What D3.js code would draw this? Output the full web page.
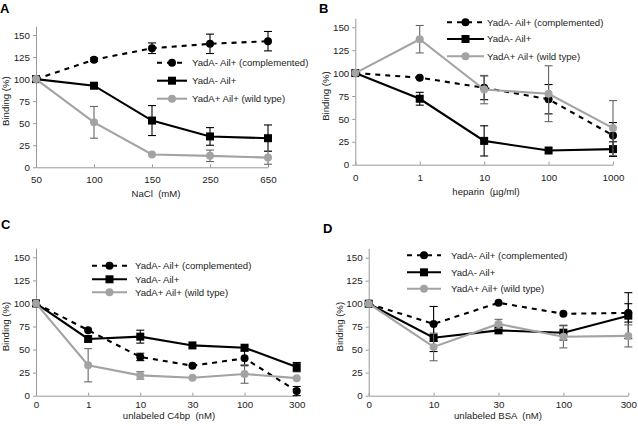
<!DOCTYPE html>
<html><head><meta charset="utf-8">
<script src="https://cdn.jsdelivr.net/npm/d3@7"></script>
<style>
body{margin:0;background:#fff;}
svg{display:block;font-family:"Liberation Sans",Arial,sans-serif;}
text{white-space:pre;}
</style></head>
<body><svg id="c" width="638" height="426"></svg>
<script>
// ---------- data ----------
const seriesNames = ["YadA- Ail+ (complemented)", "YadA- Ail+", "YadA+ Ail+ (wild type)"];
const yTicks = [0, 25, 50, 75, 100, 125, 150];

const catsA = ["50", "100", "150", "250", "650"];
const compA = [100, 122, 135, 140, 143];
const compErrA = [0, 2, 6, 11, 11];
const blackA = [100, 92.5, 53, 35, 33];
const blackErrA = [0, 0, 17, 10, 15];
const grayA = [100, 51, 14.5, 13, 11];
const grayErrA = [0, 18, 0, 6.5, 7.5];

const catsB = ["0", "1", "10", "100", "1000"];
const compB = [100, 95, 84, 71.5, 32];
const compErrB = [0, 0, 13, 16, 14];
const blackB = [100, 72, 26, 15.5, 17];
const blackErrB = [0, 7, 16.5, 0, 8];
const grayB = [100, 137, 82, 77.5, 40];
const grayErrB = [0, 15, 15.5, 30.5, 30];

const catsC = ["0", "1", "10", "30", "100", "300"];
const compC = [100, 71, 42, 32.5, 40.5, 5];
const compErrC = [0, 0, 4, 0, 8, 5];
const blackC = [100, 61.5, 64, 54.5, 52, 31];
const blackErrC = [0, 0, 7, 0, 0, 5];
const grayC = [100, 33, 22, 19.5, 23.5, 19];
const grayErrC = [0, 18, 4, 0, 10, 0];

const catsD = ["0", "10", "30", "100", "300"];
const compD = [100, 78, 101, 89, 90];
const compErrD = [0, 19, 0, 0, 10];
const blackD = [100, 63, 71, 68.5, 87];
const blackErrD = [0, 15, 0, 8, 25];
const grayD = [100, 53, 78, 64, 65];
const grayErrD = [0, 15, 5, 12, 12];

// ---------- layout ----------
const panels = [
  {letter:"A", lx:0, ly:13, cats:catsA, series:[[compA,compErrA],[blackA,blackErrA],[grayA,grayErrA]],
   x0:36, x1:268, y0:167.3, y150:35, xTitle:"NaCl  (mM)", xTitleX:156, ytx:6,
   leg:{x0:157, x1:187, tx:192, ys:[62.7,80.7,98.7]}, tickOff:16, titleOff:30},
  {letter:"B", lx:319, ly:13, cats:catsB, series:[[compB,compErrB],[blackB,blackErrB],[grayB,grayErrB]],
   x0:355.3, x1:613, y0:164.7, y150:27.3, xTitle:"heparin  (\u00b5g/ml)", xTitleX:486, ytx:326,
   leg:{x0:447, x1:484, tx:487, ys:[22.3,39,56.3]}, tickOff:16, titleOff:30},
  {letter:"C", lx:1, ly:229, cats:catsC, series:[[compC,compErrC],[blackC,blackErrC],[grayC,grayErrC]],
   x0:36, x1:296.7, y0:395.7, y150:257.3, xTitle:"unlabeled C4bp  (nM)", xTitleX:169, ytx:6,
   leg:{x0:92, x1:127, tx:135, ys:[265.7,279.3,292.3]}, tickOff:12, titleOff:23},
  {letter:"D", lx:323, ly:233, cats:catsD, series:[[compD,compErrD],[blackD,blackErrD],[grayD,grayErrD]],
   x0:368.7, x1:628.3, y0:395.7, y150:257.7, xTitle:"unlabeled BSA  (nM)", xTitleX:498, ytx:340,
   leg:{x0:407, x1:441, tx:451, ys:[255.3,272.3,288.7]}, tickOff:12, titleOff:23}
];

const styles = [
  {color:"#000", dash:"5,5", marker:"circle", errColor:"#000"},
  {color:"#000", dash:null, marker:"square", errColor:"#000"},
  {color:"#a3a3a3", dash:null, marker:"circle", errColor:"#666"}
];

const svg = d3.select("#c");
const axisColor = "#999";
const textColor = "#222";

function drawMarker(g, type, cx, cy, color){
  if(type === "circle"){
    g.append("circle").attr("cx", cx).attr("cy", cy).attr("r", 4).attr("fill", color);
  } else {
    g.append("rect").attr("x", cx-4).attr("y", cy-4).attr("width", 8).attr("height", 8).attr("fill", color);
  }
}

panels.forEach(p => {
  const g = svg.append("g");
  const x = d3.scalePoint().domain(p.cats).range([p.x0, p.x1]).padding(0);
  const k = (p.y0 - p.y150)/150;
  const y = d3.scaleLinear().domain([0, 160]).range([p.y0, p.y0 - 160*k]);

  g.append("text").attr("x", p.lx).attr("y", p.ly).text(p.letter)
    .attr("font-size", 13).attr("font-weight", "bold").attr("fill", "#000");

  const ya = g.append("g").attr("transform", `translate(${p.x0},0)`)
    .call(d3.axisLeft(y).tickValues(yTicks).tickSize(3).tickSizeOuter(0).tickPadding(3));
  ya.select(".domain").attr("stroke", axisColor);
  ya.selectAll(".tick line").attr("stroke", axisColor);
  ya.selectAll(".tick text").attr("font-size", 9.8).attr("fill", textColor)
    .attr("font-family", "Liberation Sans, Arial, sans-serif");

  const xa = g.append("g").attr("transform", `translate(0,${p.y0})`)
    .call(d3.axisBottom(x).tickSize(-3).tickSizeOuter(0).tickPadding(p.tickOff - 7));
  xa.select(".domain").attr("stroke", axisColor);
  xa.selectAll(".tick line").attr("stroke", axisColor);
  xa.selectAll(".tick text").attr("font-size", 9.8).attr("fill", textColor)
    .attr("font-family", "Liberation Sans, Arial, sans-serif");

  g.append("text").attr("x", p.xTitleX).attr("y", p.y0 + p.titleOff).attr("text-anchor", "middle")
    .attr("font-size", 9.6).attr("fill", textColor).text(p.xTitle);
  const ymid = (y(0) + y(150))/2;
  g.append("text").attr("transform", `translate(${p.ytx},${ymid}) rotate(-90)`)
    .attr("text-anchor", "middle").attr("dy", "0.35em")
    .attr("font-size", 9.6).attr("fill", textColor).text("Binding (%)");

  p.series.forEach((s, si) => {
    const st = styles[si];
    const vals = s[0], errs = s[1];
    const pts = p.cats.map((c, i) => ({c, v: vals[i], e: errs[i]}));
    const sg = g.append("g");
    pts.forEach(d => {
      if(d.e > 0){
        const cx = x(d.c);
        sg.append("line").attr("x1", cx).attr("x2", cx).attr("y1", y(d.v + d.e)).attr("y2", y(d.v - d.e))
          .attr("stroke", st.errColor).attr("stroke-width", 1.1);
        [d.v + d.e, d.v - d.e].forEach(v => {
          sg.append("line").attr("x1", cx - 4).attr("x2", cx + 4).attr("y1", y(v)).attr("y2", y(v))
            .attr("stroke", st.errColor).attr("stroke-width", 1.1);
        });
      }
    });
    const line = d3.line().x(d => x(d.c)).y(d => y(d.v));
    sg.append("path").datum(pts).attr("d", line).attr("fill", "none")
      .attr("stroke", st.color).attr("stroke-width", 2.1)
      .attr("stroke-dasharray", st.dash);
    pts.forEach(d => drawMarker(sg, st.marker, x(d.c), y(d.v), st.color));
  });

  const L = p.leg;
  seriesNames.forEach((name, si) => {
    const st = styles[si];
    const ly = L.ys[si];
    g.append("line").attr("x1", L.x0).attr("x2", L.x1).attr("y1", ly).attr("y2", ly)
      .attr("stroke", st.color).attr("stroke-width", 2.1).attr("stroke-dasharray", st.dash);
    drawMarker(g, st.marker, (L.x0 + L.x1)/2, ly, st.color);
    g.append("text").attr("x", L.tx).attr("y", ly).attr("dy", "0.35em")
      .attr("font-size", 9.6).attr("fill", textColor).text(name);
  });
});
</script></body></html>
